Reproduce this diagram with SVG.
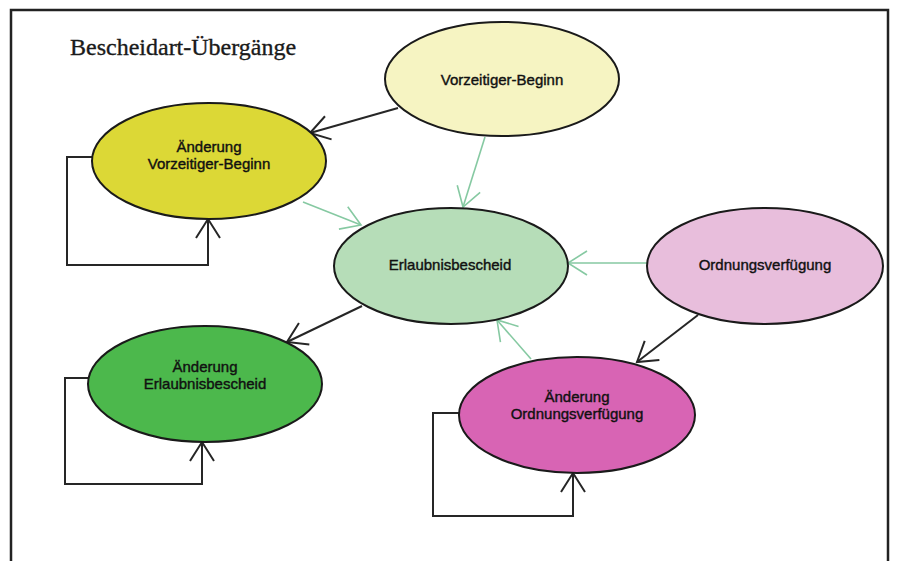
<svg xmlns="http://www.w3.org/2000/svg" width="897" height="561" viewBox="0 0 897 561">
<style>
.node ellipse{stroke:#1a1a1a;stroke-width:2}
.lbl{font-family:"Liberation Sans",Arial,sans-serif;font-size:15px;fill:#111;stroke:#111;stroke-width:0.4;text-anchor:middle}
.title{font-family:"Liberation Serif","Times New Roman",serif;font-size:24px;fill:#1a1a1a;stroke:#1a1a1a;stroke-width:0.35}
.blk{fill:none;stroke:#262626;stroke-width:2}
.grn{fill:none;stroke:#86c9a2;stroke-width:1.6}
</style>
<defs>
<marker id="ab" markerUnits="userSpaceOnUse" markerWidth="30" markerHeight="30" refX="0" refY="0" viewBox="-22 -15 24 30" orient="auto" overflow="visible">
<path d="M-19,-12 L0,0 L-19,12" fill="none" stroke="#262626" stroke-width="2"/>
</marker>
<marker id="ag" markerUnits="userSpaceOnUse" markerWidth="30" markerHeight="30" refX="0" refY="0" viewBox="-22 -15 24 30" orient="auto" overflow="visible">
<path d="M-19,-12 L0,0 L-19,12" fill="none" stroke="#86c9a2" stroke-width="1.6"/>
</marker>
</defs>
<rect x="0" y="0" width="897" height="561" fill="#ffffff"/>
<rect x="11" y="10" width="877" height="570" fill="none" stroke="#222" stroke-width="2.5"/>
<text class="title" x="70" y="55">Bescheidart-Übergänge</text>
<g id="connectors">
<line class="blk" x1="398" y1="108" x2="310" y2="133" marker-end="url(#ab)"/>
<line class="grn" x1="485" y1="137" x2="463" y2="207" marker-end="url(#ag)"/>
<line class="grn" x1="303" y1="202" x2="361" y2="225" marker-end="url(#ag)"/>
<line class="grn" x1="647" y1="263" x2="568" y2="263" marker-end="url(#ag)"/>
<line class="blk" x1="362" y1="306" x2="287" y2="342" marker-end="url(#ab)"/>
<line class="grn" x1="531" y1="359" x2="497" y2="320" marker-end="url(#ag)"/>
<line class="blk" x1="698" y1="315" x2="637" y2="362" marker-end="url(#ab)"/>
<polyline class="blk" points="92,157 67,157 67,265 208,265 208,219" marker-end="url(#ab)"/>
<polyline class="blk" points="88,378 65,378 65,484 202,484 202,442" marker-end="url(#ab)"/>
<polyline class="blk" points="459,413 433,413 433,516 573,516 573,473" marker-end="url(#ab)"/>
</g>
<g id="vorzeitiger-beginn" class="node">
<ellipse cx="502" cy="79" rx="117" ry="57" fill="#f6f4c2"/>
<text class="lbl" x="502" y="85">Vorzeitiger-Beginn</text>
</g>
<g id="aenderung-vorzeitiger-beginn" class="node">
<ellipse cx="209" cy="161" rx="117" ry="58" fill="#dcd836"/>
<text class="lbl" x="209" y="152">Änderung</text>
<text class="lbl" x="209" y="169">Vorzeitiger-Beginn</text>
</g>
<g id="erlaubnisbescheid" class="node">
<ellipse cx="451" cy="266" rx="117" ry="58" fill="#b6ddb8"/>
<text class="lbl" x="450" y="270">Erlaubnisbescheid</text>
</g>
<g id="ordnungsverfuegung" class="node">
<ellipse cx="765" cy="266" rx="118" ry="58" fill="#e8bedc"/>
<text class="lbl" x="765" y="270">Ordnungsverfügung</text>
</g>
<g id="aenderung-erlaubnisbescheid" class="node">
<ellipse cx="205" cy="384" rx="117" ry="58" fill="#4cb84c"/>
<text class="lbl" x="205" y="372">Änderung</text>
<text class="lbl" x="205" y="389">Erlaubnisbescheid</text>
</g>
<g id="aenderung-ordnungsverfuegung" class="node">
<ellipse cx="577" cy="415" rx="118" ry="58" fill="#d864b4"/>
<text class="lbl" x="577" y="402">Änderung</text>
<text class="lbl" x="577" y="419">Ordnungsverfügung</text>
</g>
</svg>
